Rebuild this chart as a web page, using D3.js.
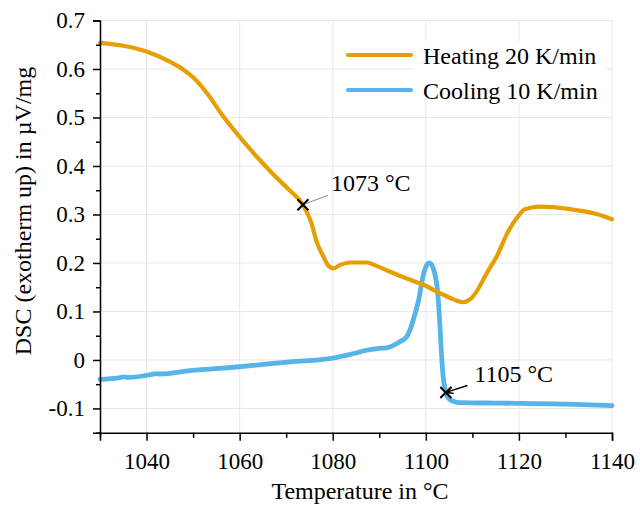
<!DOCTYPE html>
<html>
<head>
<meta charset="utf-8">
<script src="https://cdn.jsdelivr.net/npm/d3@7"></script>
<style>
  html, body { margin: 0; padding: 0; background: #fff; }
  svg { display: block; }
  text { font-family: "Liberation Serif", "Times New Roman", serif; fill: #000; }
</style>
</head>
<body>
<svg id="chart" width="640" height="509"></svg>
<script>
// ---------------- data ----------------
const heatingT = [1030, 1035, 1040, 1045, 1048, 1050, 1053, 1056.5, 1060, 1063.7, 1067.2, 1070.5, 1073.6, 1075.5, 1076.5, 1078, 1078.8, 1080.1, 1081.6, 1083.7, 1087.3, 1089.4, 1092.3, 1095.9, 1099.5, 1103, 1105.9, 1107.9, 1109.5, 1110.9, 1113.1, 1115.2, 1117.7, 1119.5, 1121.3, 1124.5, 1131, 1136.7, 1140];
const heatingV = [0.654, 0.648, 0.636, 0.615, 0.598, 0.583, 0.550, 0.502, 0.460, 0.419, 0.383, 0.352, 0.320, 0.280, 0.245, 0.213, 0.198, 0.189, 0.196, 0.201, 0.201, 0.194, 0.182, 0.168, 0.155, 0.138, 0.125, 0.119, 0.125, 0.141, 0.179, 0.213, 0.265, 0.292, 0.311, 0.316, 0.311, 0.301, 0.290];

const coolingT = [1030, 1034, 1035, 1036, 1041, 1042, 1043, 1049.3, 1060, 1070.8, 1080, 1084, 1087.3, 1090, 1091.6, 1093, 1094.5, 1095.9, 1096.6, 1097.7, 1098.5, 1099.1, 1099.6, 1100.2, 1100.7, 1101.2, 1101.6, 1102.1, 1102.5, 1103.0, 1103.4, 1103.8, 1104.5, 1105.2, 1105.9, 1107.3, 1115.9, 1130.3, 1140];
const coolingV = [-0.040, -0.037, -0.035, -0.036, -0.030, -0.028, -0.029, -0.022, -0.014, -0.004, 0.004, 0.012, 0.020, 0.024, 0.025, 0.030, 0.038, 0.048, 0.062, 0.096, 0.125, 0.158, 0.180, 0.196, 0.200, 0.197, 0.189, 0.170, 0.144, 0.076, 0.007, -0.041, -0.072, -0.082, -0.085, -0.088, -0.089, -0.091, -0.094];

const seriesNames = ["Heating 20 K/min", "Cooling 10 K/min"];
const seriesColors = ["#E69F00", "#56B4E9"];

const xMajorTicks = [1040, 1060, 1080, 1100, 1120, 1140];
const xMinorTicks = [1030, 1050, 1070, 1090, 1110, 1130];
const yMajorTicks = [-0.1, 0, 0.1, 0.2, 0.3, 0.4, 0.5, 0.6, 0.7];
const yMinorTicks = [-0.15, -0.05, 0.05, 0.15, 0.25, 0.35, 0.45, 0.55, 0.65];

const annotT = [1073.6, 1104.3];
const annotV = [0.320, -0.067];
const annotLabels = ["1073 °C", "1105 °C"];

const xTitle = "Temperature in °C";
const yTitle = "DSC (exotherm up) in µV/mg";

// ---------------- chart ----------------
const svg = d3.select("#chart");
const x = d3.scaleLinear().domain([1030, 1140]).range([100, 612]);
const y = d3.scaleLinear().domain([-0.15, 0.7]).range([432.7, 20.5]);

// grid
const grid = svg.append("g").attr("stroke", "#e8e8e8").attr("stroke-width", 1);
grid.selectAll(".gx").data(xMajorTicks).join("line")
  .attr("x1", d => x(d)).attr("x2", d => x(d))
  .attr("y1", y(-0.15)).attr("y2", y(0.7));
grid.selectAll(".gy").data(yMajorTicks).join("line")
  .attr("x1", x(1030)).attr("x2", x(1140))
  .attr("y1", d => y(d)).attr("y2", d => y(d));

// legend background (covers grid)
const legendG = svg.append("g");
legendG.append("rect").attr("x", 413).attr("y", 41).attr("width", 192).attr("height", 62).attr("fill", "#fff");

// lines
const line = d3.line().x(d => x(d[0])).y(d => y(d[1])).curve(d3.curveMonotoneX);
const heating = heatingT.map((t, i) => [t, heatingV[i]]);
const cooling = coolingT.map((t, i) => [t, coolingV[i]]);

svg.append("path").datum(cooling).attr("d", line)
  .attr("fill", "none").attr("stroke", seriesColors[1]).attr("stroke-width", 4.8)
  .attr("stroke-linejoin", "round").attr("stroke-linecap", "round");
svg.append("path").datum(heating).attr("d", line)
  .attr("fill", "none").attr("stroke", seriesColors[0]).attr("stroke-width", 4.2)
  .attr("stroke-linejoin", "round").attr("stroke-linecap", "round");

// axes
const fmt = d => String(+d.toFixed(2));
const xAxis = svg.append("g").attr("transform", `translate(0,${y(-0.15)})`)
  .call(d3.axisBottom(x).tickValues(xMajorTicks).tickSize(8).tickPadding(12).tickFormat(fmt));
const xMinor = svg.append("g").attr("transform", `translate(0,${y(-0.15)})`)
  .call(d3.axisBottom(x).tickValues(xMinorTicks).tickSize(5).tickFormat(""));
const yAxis = svg.append("g").attr("transform", `translate(${x(1030)},0)`)
  .call(d3.axisLeft(y).tickValues(yMajorTicks).tickSize(7).tickPadding(8).tickFormat(fmt));
const yMinor = svg.append("g").attr("transform", `translate(${x(1030)},0)`)
  .call(d3.axisLeft(y).tickValues(yMinorTicks).tickSize(4).tickFormat(""));

[xAxis, xMinor, yAxis, yMinor].forEach(g => {
  g.selectAll("path").attr("stroke", "#000").attr("stroke-width", 1.5);
  g.selectAll("line").attr("stroke", "#000").attr("stroke-width", 1.5);
  g.selectAll("text").attr("font-family", "Liberation Serif").attr("font-size", 23).attr("fill", "#000");
});
xMinor.select("path").remove();
yMinor.select("path").remove();

// axis titles
svg.append("text").attr("x", 360).attr("y", 499).attr("text-anchor", "middle")
  .attr("font-size", 24).text(xTitle);
svg.append("text").attr("transform", `translate(31,211) rotate(-90)`)
  .attr("text-anchor", "middle").attr("font-size", 24).text(yTitle);

// annotations
const cross = (g, cx, cy) => {
  const s = 5.5;
  g.append("path").attr("d", `M${cx - s},${cy - s}L${cx + s},${cy + s}M${cx - s},${cy + s}L${cx + s},${cy - s}`)
    .attr("stroke", "#000").attr("stroke-width", 2).attr("fill", "none");
};
const ann = svg.append("g");
// 1073 °C : thin gray leader
{
  const cx = x(annotT[0]), cy = y(annotV[0]);
  ann.append("line").attr("x1", cx).attr("y1", cy).attr("x2", cx + 25).attr("y2", cy - 9.5)
    .attr("stroke", "#888").attr("stroke-width", 1);
  cross(ann, cx, cy);
  ann.append("text").attr("x", cx + 28).attr("y", cy - 13.5).attr("font-size", 24).text(annotLabels[0]);
}
// 1105 °C : black arrow
{
  const cx = x(annotT[1]), cy = y(annotV[1]);
  const ex = cx + 21.5, ey = cy - 7;
  ann.append("line").attr("x1", ex).attr("y1", ey).attr("x2", cx + 1).attr("y2", cy - 0.3)
    .attr("stroke", "#000").attr("stroke-width", 1.5);
  const ang = Math.atan2(ey - cy, ex - cx);
  const L = 8, w = 0.45;
  const p1 = [cx + L * Math.cos(ang + w), cy + L * Math.sin(ang + w)];
  const p2 = [cx + L * Math.cos(ang - w), cy + L * Math.sin(ang - w)];
  ann.append("path").attr("d", `M${p1[0]},${p1[1]}L${cx + 1},${cy}L${p2[0]},${p2[1]}`)
    .attr("stroke", "#000").attr("stroke-width", 1.5).attr("fill", "none");
  cross(ann, cx, cy);
  ann.append("text").attr("x", cx + 28.5).attr("y", cy - 10).attr("font-size", 24).text(annotLabels[1]);
}

// legend
seriesNames.forEach((name, i) => {
  const ly = 55 + i * 35;
  legendG.append("line").attr("x1", 348).attr("x2", 411).attr("y1", ly).attr("y2", ly)
    .attr("stroke", seriesColors[i]).attr("stroke-width", 4.2).attr("stroke-linecap", "round");
  legendG.append("text").attr("x", 423).attr("y", ly + 9).attr("font-size", 24).text(name);
});
</script>
</body>
</html>
